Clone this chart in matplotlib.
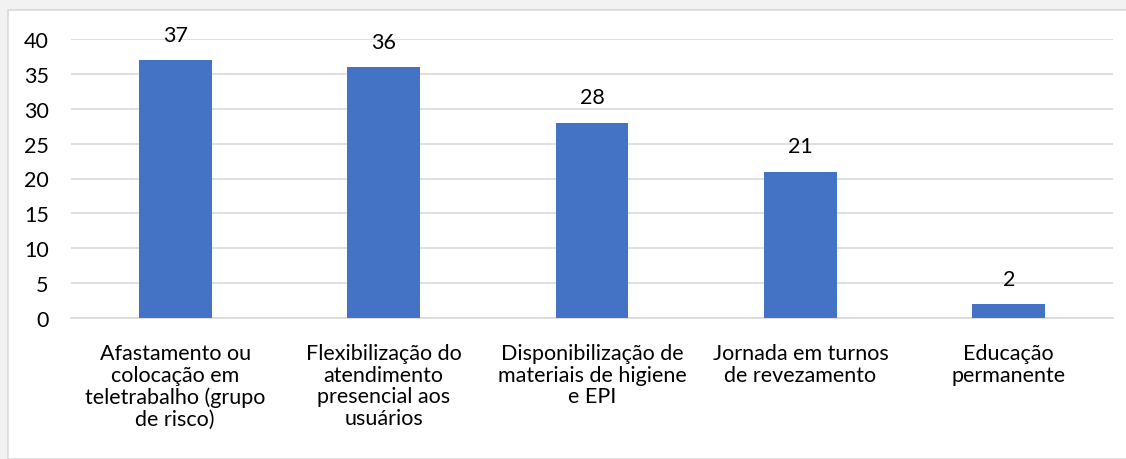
import matplotlib.pyplot as plt
from matplotlib.patches import Rectangle

categories = [
    "Afastamento ou\ncolocação em\nteletrabalho (grupo\nde risco)",
    "Flexibilização do\natendimento\npresencial aos\nusuários",
    "Disponibilização de\nmateriais de higiene\ne EPI",
    "Jornada em turnos\nde revezamento",
    "Educação\npermanente",
]
values = [37, 36, 28, 21, 2]
yticks = [0, 5, 10, 15, 20, 25, 30, 35, 40]

plt.rcParams['font.family'] = ['Lato', 'DejaVu Sans']
FS = 15.5

W, H = 1126, 460
fig = plt.figure(figsize=(W / 100, H / 100), dpi=100)
fig.patch.set_facecolor('#f2f2f2')

# white chart area with light border (Excel look)
fig.patches.append(Rectangle((8 / W, 0), 1, 1 - 11 / H, transform=fig.transFigure,
                             facecolor='white', edgecolor='#d9d9d9', linewidth=1.2, zorder=-5))

ax = fig.add_axes([71 / W, 1 - 319 / H, (1113 - 71) / W, (319 - 40) / H])
ax.set_zorder(5)
ax.set_facecolor('none')

x = range(len(categories))
bars = ax.bar(x, values, width=0.35, color='#4472c4', zorder=3)
for b, v in zip(bars, values):
    ax.text(b.get_x() + b.get_width() / 2, v + 2.2, str(v), ha='center', va='bottom',
            fontsize=FS, color='#000000', clip_on=False)

ax.set_ylim(0, 40)
ax.set_xlim(-0.5, len(categories) - 0.5)
ax.set_yticks(yticks)
ax.set_xticks(list(x))
ax.set_xticklabels(categories, fontsize=FS, linespacing=1.1, va='top')
ax.tick_params(axis='y', length=0, pad=16, labelsize=FS)
ax.tick_params(axis='x', length=0, pad=18)
ax.grid(axis='y', color='#d9d9d9', linewidth=1.2, zorder=0)
for s in ['top', 'right', 'left']:
    ax.spines[s].set_visible(False)
ax.spines['bottom'].set_color('#d9d9d9')
ax.spines['bottom'].set_linewidth(1.2)

fig.savefig('out.png', dpi=100, facecolor=fig.get_facecolor())
